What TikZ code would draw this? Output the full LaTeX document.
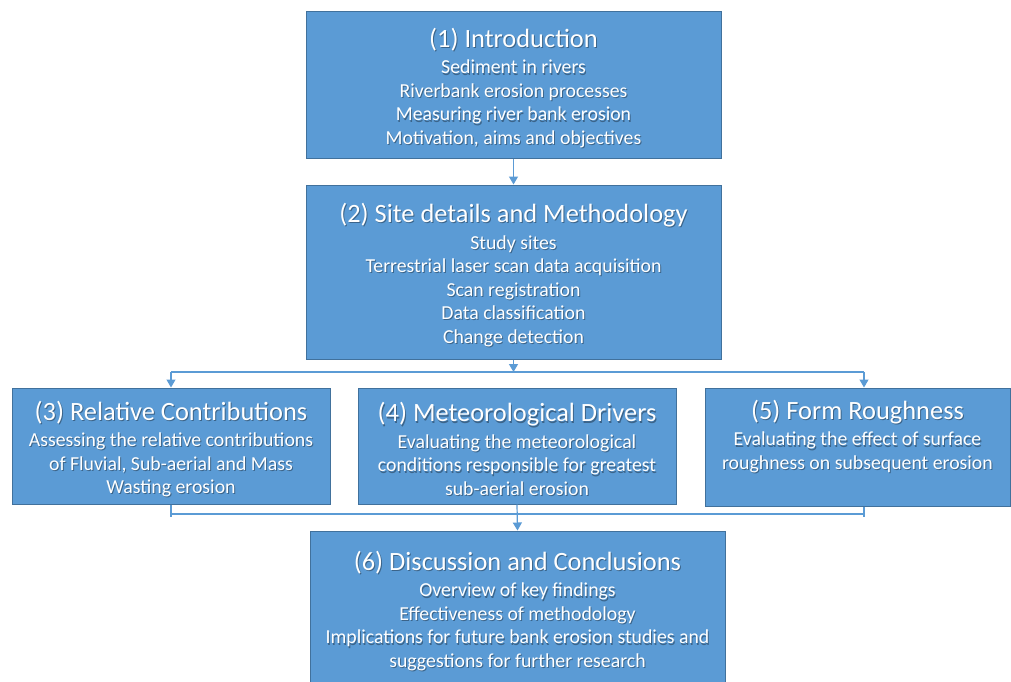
\documentclass[tikz,border=0pt]{standalone}
\usepackage{fontspec}
\setmainfont{Carlito}
\usetikzlibrary{arrows.meta}
\definecolor{boxfill}{HTML}{5B9BD5}
\definecolor{boxedge}{HTML}{41719C}
\definecolor{linkblue}{HTML}{5B9BD5}
\newcommand{\boxtitle}[1]{{\fontsize{26.4}{30}\selectfont #1}\\[3pt]}
% white text with a soft drop shadow: #1 name, #2 position, #3 content
\newcommand{\shadedtext}[3]{%
  \node[boxtext, text=black, opacity=0.35] at ([shift={(1,1.2)}]#2) {#3};
  \node[boxtext] (#1) at (#2) {#3};}
\begin{document}
\begin{tikzpicture}[x=1pt,y=-1pt,
  box/.style={draw=boxedge, fill=boxfill, line width=1pt, inner sep=0pt},
  boxtext/.style={text=white, align=center, inner sep=0pt,
    font=\fontsize{19.8}{23.5}\selectfont},
  link/.style={draw=linkblue, line width=1.2pt},
  tip/.style={-{Triangle[width=9pt,length=8pt]}},
  ]
\useasboundingbox (0,0) rectangle (1011,682);
\fill[white] (0,0) rectangle (1011,682);

% chapter boxes
\node[box, minimum width=415pt, minimum height=146pt] (intro) at (513.5,85) {};
\node[box, minimum width=415pt, minimum height=174pt] (site) at (513.5,272) {};
\node[box, minimum width=318pt, minimum height=116pt] (rel) at (171,446) {};
\node[box, minimum width=318pt, minimum height=116pt] (met) at (517,446) {};
\node[box, minimum width=305pt, minimum height=118pt] (form) at (857.5,447) {};
\node[box, minimum width=415pt, minimum height=160pt] (disc) at (517.5,611) {};

% box contents
\shadedtext{intro-text}{513.5,88}{\boxtitle{(1) Introduction}
   Sediment in rivers\\
   Riverbank erosion processes\\
   Measuring river bank erosion\\
   Motivation, aims and objectives}
\shadedtext{site-text}{513.5,275}{\boxtitle{(2) Site details and Methodology}
   Study sites\\
   Terrestrial laser scan data acquisition\\
   Scan registration\\
   Data classification\\
   Change detection}
\shadedtext{rel-text}{171,449}{\boxtitle{(3) Relative Contributions}
   Assessing the relative contributions\\
   of Fluvial, Sub-aerial and Mass\\
   Wasting erosion}
\shadedtext{met-text}{517,449}{\boxtitle{(4) Meteorological Drivers}
   Evaluating the meteorological\\
   conditions responsible for greatest\\
   sub-aerial erosion}
\shadedtext{form-text}{857.5,436.5}{\boxtitle{(5) Form Roughness}
   Evaluating the effect of surface\\
   roughness on subsequent erosion}
\shadedtext{disc-text}{517.5,611}{\boxtitle{(6) Discussion and Conclusions}
   Overview of key findings\\
   Effectiveness of methodology\\
   Implications for future bank erosion studies and\\
   suggestions for further research}

% junction points of the connectors
\coordinate (split) at (513.5,372);
\coordinate (splitL) at (171,372);
\coordinate (splitR) at (864,372);
\coordinate (joinL) at (171,514);
\coordinate (joinR) at (864,514);

% connectors
\draw[link, tip] (intro.south) -- (site.north);
\draw[link, tip] (site.south) -- (split);
\draw[link] (splitL) -- (splitR);
\draw[link, tip] (splitL) -- (rel.north);
\draw[link, tip] (splitR) -- (splitR |- form.north);
\draw[link] (rel.south) -- ([yshift=-3pt]joinL);
\draw[link] (joinR |- form.south) -- ([yshift=-3pt]joinR);
\draw[link] (joinL) -- (joinR);
\draw[link, tip] (met.south) -- (disc.north);
\end{tikzpicture}
\end{document}
